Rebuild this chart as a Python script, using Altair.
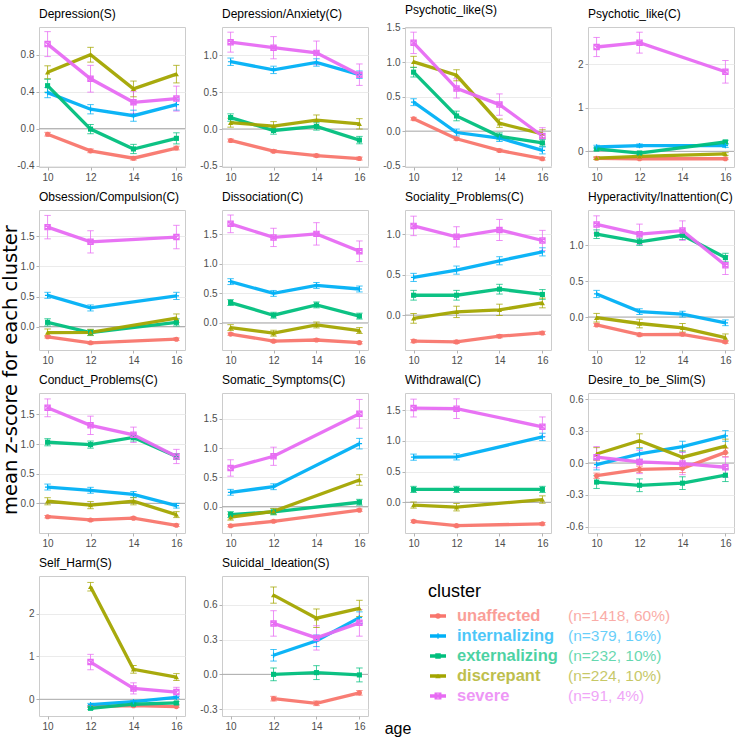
import altair as alt
import pandas as pd

# ---------------- data ----------------
CLUSTERS = ["unaffected", "internalizing", "externalizing", "discrepant", "severe"]
COLORS = ["#F8766D", "#00B0F6", "#00BF7D", "#A3A500", "#E76BF3"]
N_INFO = ["(n=1418, 60%)", "(n=379, 16%)", "(n=232, 10%)", "(n=224, 10%)", "(n=91, 4%)"]

MEASURES = [
    "Depression(S)", "Depression/Anxiety(C)", "Psychotic_like(S)", "Psychotic_like(C)",
    "Obsession/Compulsion(C)", "Dissociation(C)", "Sociality_Problems(C)", "Hyperactivity/Inattention(C)",
    "Conduct_Problems(C)", "Somatic_Symptoms(C)", "Withdrawal(C)", "Desire_to_be_Slim(S)",
    "Self_Harm(S)", "Suicidal_Ideation(S)",
]

AGES = [
    [10, 12, 14, 16], [10, 12, 14, 16], [10, 12, 14, 16], [10, 12, 16],
    [10, 12, 16], [10, 12, 14, 16], [10, 12, 14, 16], [10, 12, 14, 16],
    [10, 12, 14, 16], [10, 12, 16], [10, 12, 16], [10, 12, 14, 16],
    [12, 14, 16], [12, 14, 16],
]

UNAFFECTED_MEAN = [
    [-0.06, -0.24, -0.32, -0.21], [-0.155, -0.30, -0.36, -0.40], [0.18, -0.11, -0.28, -0.40], [-0.16, -0.17, -0.17],
    [-0.17, -0.27, -0.21], [-0.19, -0.31, -0.29, -0.335], [-0.32, -0.33, -0.26, -0.22], [-0.11, -0.245, -0.24, -0.345],
    [-0.225, -0.28, -0.25, -0.37], [-0.325, -0.25, -0.06], [-0.31, -0.38, -0.35], [-0.12, -0.06, -0.05, 0.10],
    [-0.17, -0.15, -0.17], [-0.21, -0.25, -0.16],
]
UNAFFECTED_ERR = [
    [0.02, 0.02, 0.02, 0.02], [0.02, 0.02, 0.02, 0.02], [0.02, 0.02, 0.02, 0.02], [0.02, 0.02, 0.02],
    [0.02, 0.02, 0.02], [0.02, 0.02, 0.02, 0.02], [0.02, 0.02, 0.02, 0.02], [0.02, 0.02, 0.02, 0.02],
    [0.02, 0.02, 0.02, 0.02], [0.02, 0.02, 0.02], [0.02, 0.02, 0.02], [0.025, 0.03, 0.04, 0.04],
    [0.02, 0.02, 0.02], [0.02, 0.02, 0.02],
]

INTERNALIZING_MEAN = [
    [0.39, 0.21, 0.14, 0.26], [0.91, 0.80, 0.90, 0.735], [0.42, -0.02, -0.10, -0.28], [0.10, 0.13, 0.13],
    [0.52, 0.31, 0.51], [0.70, 0.50, 0.635, 0.575], [0.465, 0.555, 0.67, 0.78], [0.32, 0.075, 0.04, -0.08],
    [0.275, 0.22, 0.15, -0.04], [0.245, 0.34, 1.075], [0.735, 0.74, 1.065], [-0.015, 0.085, 0.155, 0.255],
    [-0.125, -0.055, 0.045], [0.165, 0.29, 0.49],
]
INTERNALIZING_ERR = [
    [0.055, 0.05, 0.06, 0.06], [0.05, 0.05, 0.05, 0.05], [0.05, 0.05, 0.05, 0.05], [0.04, 0.04, 0.04],
    [0.05, 0.05, 0.06], [0.05, 0.05, 0.05, 0.05], [0.05, 0.05, 0.05, 0.05], [0.05, 0.04, 0.04, 0.04],
    [0.05, 0.05, 0.05, 0.04], [0.05, 0.05, 0.09], [0.05, 0.05, 0.06], [0.05, 0.05, 0.05, 0.05],
    [0.03, 0.03, 0.03], [0.05, 0.05, 0.05],
]

EXTERNALIZING_MEAN = [
    [0.465, -0.005, -0.22, -0.105], [0.155, -0.02, 0.035, -0.15], [0.855, 0.22, -0.075, -0.17], [0.055, -0.04, 0.215],
    [0.07, -0.10, 0.07], [0.345, 0.13, 0.305, 0.115], [0.245, 0.245, 0.32, 0.255], [1.15, 1.045, 1.135, 0.825],
    [1.03, 0.99, 1.11, 0.79], [-0.135, -0.09, 0.075], [0.21, 0.21, 0.21], [-0.18, -0.21, -0.19, -0.115],
    [-0.21, -0.115, -0.085], [0.0, 0.015, -0.005],
]
EXTERNALIZING_ERR = [
    [0.07, 0.05, 0.05, 0.06], [0.05, 0.05, 0.05, 0.05], [0.07, 0.07, 0.05, 0.05], [0.04, 0.04, 0.04],
    [0.06, 0.05, 0.06], [0.05, 0.05, 0.05, 0.05], [0.06, 0.06, 0.06, 0.06], [0.06, 0.05, 0.06, 0.06],
    [0.06, 0.06, 0.06, 0.05], [0.05, 0.05, 0.05], [0.05, 0.05, 0.05], [0.06, 0.06, 0.06, 0.06],
    [0.03, 0.03, 0.03], [0.055, 0.06, 0.06],
]

DISCREPANT_MEAN = [
    [0.61, 0.80, 0.43, 0.59], [0.085, 0.04, 0.12, 0.07], [1.005, 0.81, 0.115, -0.04], [-0.155, -0.115, -0.06],
    [-0.10, -0.095, 0.14], [-0.08, -0.175, -0.035, -0.13], [-0.04, 0.04, 0.065, 0.15], [-0.01, -0.09, -0.15, -0.285],
    [0.035, -0.03, 0.035, -0.19], [-0.18, -0.08, 0.455], [-0.045, -0.08, 0.045], [0.085, 0.21, 0.055, 0.16],
    [2.63, 0.70, 0.52], [0.685, 0.485, 0.57],
]
DISCREPANT_ERR = [
    [0.07, 0.08, 0.085, 0.095], [0.06, 0.06, 0.07, 0.07], [0.08, 0.08, 0.06, 0.06], [0.03, 0.03, 0.03],
    [0.06, 0.05, 0.07], [0.05, 0.05, 0.05, 0.05], [0.06, 0.07, 0.07, 0.06], [0.06, 0.06, 0.06, 0.05],
    [0.06, 0.06, 0.06, 0.05], [0.05, 0.05, 0.09], [0.05, 0.06, 0.06], [0.06, 0.065, 0.06, 0.065],
    [0.10, 0.09, 0.08], [0.07, 0.08, 0.07],
]

SEVERE_MEAN = [
    [0.915, 0.54, 0.285, 0.325], [1.175, 1.10, 1.03, 0.735], [1.28, 0.62, 0.385, -0.07], [2.40, 2.50, 1.83],
    [1.655, 1.41, 1.49], [1.68, 1.45, 1.51, 1.215], [1.10, 0.965, 1.05, 0.92], [1.285, 1.15, 1.20, 0.72],
    [1.61, 1.315, 1.155, 0.79], [0.66, 0.86, 1.585], [1.535, 1.525, 1.23], [0.055, 0.01, -0.005, -0.04],
    [0.87, 0.255, 0.17], [0.44, 0.315, 0.445],
]
SEVERE_ERR = [
    [0.135, 0.145, 0.12, 0.135], [0.135, 0.15, 0.16, 0.145], [0.155, 0.14, 0.155, 0.12], [0.22, 0.24, 0.26],
    [0.195, 0.185, 0.195], [0.15, 0.155, 0.19, 0.175], [0.12, 0.125, 0.13, 0.125], [0.12, 0.14, 0.135, 0.13],
    [0.15, 0.155, 0.13, 0.12], [0.14, 0.155, 0.245], [0.145, 0.16, 0.16], [0.10, 0.11, 0.105, 0.095],
    [0.18, 0.13, 0.11], [0.11, 0.105, 0.115],
]

Y_TICKS = [
    [-0.4, 0.0, 0.4, 0.8], [-0.5, 0.0, 0.5, 1.0], [-0.5, 0.0, 0.5, 1.0, 1.5], [0, 1, 2],
    [0.0, 0.5, 1.0, 1.5], [0.0, 0.5, 1.0, 1.5], [0.0, 0.5, 1.0], [0.0, 0.5, 1.0],
    [0.0, 0.5, 1.0, 1.5], [0.0, 0.5, 1.0, 1.5], [0.0, 0.5, 1.0, 1.5], [-0.6, -0.3, 0.0, 0.3, 0.6],
    [0, 1, 2], [-0.3, 0.0, 0.3, 0.6],
]
Y_DOMAINS = [
    [-0.415, 1.10], [-0.514, 1.38], [-0.52, 1.51], [-0.36, 2.86],
    [-0.39, 1.94], [-0.46, 1.915], [-0.43, 1.296], [-0.458, 1.486],
    [-0.50, 1.86], [-0.45, 1.94], [-0.50, 1.78], [-0.66, 0.66],
    [-0.39, 2.88], [-0.36, 0.85],
]
X_TICKS = [10, 12, 14, 16]

# ---------------- table ----------------
MEANS = [UNAFFECTED_MEAN, INTERNALIZING_MEAN, EXTERNALIZING_MEAN, DISCREPANT_MEAN, SEVERE_MEAN]
ERRS = [UNAFFECTED_ERR, INTERNALIZING_ERR, EXTERNALIZING_ERR, DISCREPANT_ERR, SEVERE_ERR]
rows = []
for mi, m in enumerate(MEASURES):
    for ci, c in enumerate(CLUSTERS):
        for a, v, e in zip(AGES[mi], MEANS[ci][mi], ERRS[ci][mi]):
            rows.append({"measure": m, "cluster": c, "age": a, "mean": v, "lo": v - e, "hi": v + e})
df = pd.DataFrame(rows)

SHAPES = ["circle", "M-1,0H1M0,-1V1", "square", "triangle-up", "M-1,-1H1V1H-1ZM-1,-1L1,1M-1,1L1,-1"]
FILLED = ["unaffected", "externalizing", "discrepant"]
OPEN = ["internalizing", "severe"]

color_scale = alt.Scale(domain=CLUSTERS, range=COLORS)
shape_scale = alt.Scale(domain=CLUSTERS, range=SHAPES)
col = alt.Color("cluster:N", scale=color_scale, legend=None)
shp = alt.Shape("cluster:N", scale=shape_scale, legend=None)

W, H = 146, 140


def panel(i):
    m = MEASURES[i]
    fmt = "d" if i in (3, 12) else ".1f"
    xs = alt.X("age:Q", scale=alt.Scale(domain=[9.6, 16.4], nice=False, zero=False),
               axis=alt.Axis(values=X_TICKS, title=None, grid=False, format="d"))

    def ys(field):
        return alt.Y(field, type="quantitative",
                     scale=alt.Scale(domain=Y_DOMAINS[i], nice=False, zero=False),
                     axis=alt.Axis(values=Y_TICKS[i], title=None, format=fmt, grid=True,
                                   labelExpr="replace(datum.label, '\u2212', '-')"))

    src = alt.Chart(df).transform_filter(alt.datum.measure == m)
    zero = alt.Chart(pd.DataFrame({"z": [0.0]})).mark_rule(color="#ababab", strokeWidth=1).encode(y=ys("z"))
    bars = src.mark_rule(strokeWidth=1, opacity=0.75).encode(x=xs, y=ys("lo"), y2="hi:Q", color=col)
    cap_lo = src.mark_tick(orient="horizontal", size=6.5, thickness=1, opacity=0.75).encode(x=xs, y=ys("lo"), color=col)
    cap_hi = src.mark_tick(orient="horizontal", size=6.5, thickness=1, opacity=0.75).encode(x=xs, y=ys("hi"), color=col)
    line = src.mark_line(strokeWidth=3.3, opacity=0.95).encode(x=xs, y=ys("mean"), color=col, detail="cluster:N")
    pf = src.transform_filter(alt.FieldOneOfPredicate(field="cluster", oneOf=FILLED)).mark_point(
        filled=True, size=26, opacity=1).encode(x=xs, y=ys("mean"), color=col, shape=shp)
    po = src.transform_filter(alt.FieldOneOfPredicate(field="cluster", oneOf=OPEN)).mark_point(
        filled=False, size=28, strokeWidth=1.2, opacity=1).encode(x=xs, y=ys("mean"), color=col, shape=shp)
    return alt.layer(zero, bars, cap_lo, cap_hi, line, pf, po).properties(
        width=W, height=H,
        title=alt.TitleParams(text=m, anchor="start", frame="group", fontSize=12,
                              font="Liberation Sans", fontWeight="normal", color="black", offset=6),
    )


# ---------------- legend cell ----------------
leg_df = pd.DataFrame({"cluster": CLUSTERS, "label": CLUSTERS, "n": N_INFO})
ly = alt.Y("cluster:N", sort=CLUSTERS,
           scale=alt.Scale(type="point", domain=CLUSTERS, range=[40, 120], padding=0), axis=None)
lsrc = alt.Chart(leg_df)
l_rule = lsrc.mark_rule(strokeWidth=3.5).encode(x=alt.value(25), x2=alt.value(41), y=ly, color=col)
l_pf = lsrc.transform_filter(alt.FieldOneOfPredicate(field="cluster", oneOf=FILLED)).mark_point(
    filled=True, size=30, opacity=1).encode(x=alt.value(33), y=ly, color=col, shape=shp)
l_po = lsrc.transform_filter(alt.FieldOneOfPredicate(field="cluster", oneOf=OPEN)).mark_point(
    filled=False, size=32, strokeWidth=1.3, opacity=1).encode(x=alt.value(33), y=ly, color=col, shape=shp)
l_lab = lsrc.mark_text(align="left", baseline="middle", font="Liberation Sans", fontSize=16.5,
                       fontWeight="bold", opacity=0.7).encode(x=alt.value(52), y=ly, text="label:N", color=col)
l_n = lsrc.mark_text(align="left", baseline="middle", font="Liberation Sans", fontSize=15.5,
                     opacity=0.6).encode(x=alt.value(163), y=ly, text="n:N", color=col)
t_df = alt.Chart(pd.DataFrame({"t": ["cluster"], "a": ["age"]}))
l_title = t_df.mark_text(align="left", baseline="middle", font="Liberation Sans", fontSize=18,
                         color="black").encode(x=alt.value(23), y=alt.value(16), text="t:N")
x_title = t_df.mark_text(align="center", baseline="alphabetic", font="Liberation Sans", fontSize=16,
                         color="black").encode(x=alt.value(-7), y=alt.value(158), text="a:N")
legend_cell = alt.layer(l_rule, l_pf, l_po, l_lab, l_n, l_title, x_title).properties(
    width=W, height=H, view=alt.ViewConfig(strokeOpacity=0))

charts = [panel(i) for i in range(len(MEASURES))] + [legend_cell]

chart = alt.concat(*charts, columns=4, spacing={"row": 43, "column": 37}, bounds="flush").resolve_scale(
    x="independent", y="independent", color="independent", shape="independent"
).properties(
    title=alt.TitleParams(text="mean z-score for each cluster", orient="left", anchor="middle",
                          font="DejaVu Sans", fontSize=19.5, fontWeight="normal", color="black", offset=-5),
    padding={"left": 0, "top": 3, "right": 2, "bottom": 10},
).configure_axis(
    labelColor="#4d4d4d", labelFontSize=10, labelFont="Liberation Sans", tickColor="#b3b3b3",
    tickSize=3, domain=False, gridColor="#ebebeb", gridWidth=1, labelPadding=2,
).configure_view(stroke="#cccccc", strokeWidth=1)

chart.save("out.html", embed_options={"renderer": "svg", "actions": False})
